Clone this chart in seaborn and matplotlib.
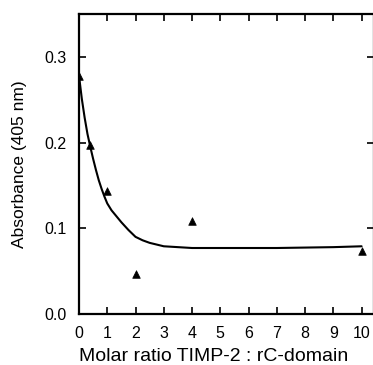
import numpy as np
import matplotlib
matplotlib.use('Agg')
import matplotlib.pyplot as plt
import pandas as pd
import seaborn as sns

# measured points
ratio = [0, 0.4, 1, 2, 4, 10]
absorb = [0.278, 0.197, 0.143, 0.047, 0.108, 0.073]

# fitted curve
fit_x = [0, 0.1, 0.2, 0.3, 0.4, 0.5, 0.6, 0.7, 0.8, 0.9, 1.0, 1.15, 1.3, 1.5,
         1.75, 2.0, 2.25, 2.5, 2.75, 3.0, 3.5, 4, 5, 6, 7, 8, 9, 10]
fit_y = [0.278, 0.251, 0.229, 0.210, 0.195, 0.181, 0.168, 0.156, 0.146, 0.137,
         0.129, 0.121, 0.115, 0.107, 0.098, 0.090, 0.086, 0.083, 0.081, 0.079,
         0.078, 0.077, 0.077, 0.077, 0.077, 0.0775, 0.078, 0.079]

xticks = list(range(0, 11))
yticks = [0.0, 0.1, 0.2, 0.3]

sns.set_style('ticks')
plt.rcParams['font.family'] = ['Liberation Sans', 'DejaVu Sans']
plt.rcParams['text.color'] = 'black'
plt.rcParams['axes.labelcolor'] = 'black'

fig = plt.figure(figsize=(3.73, 3.65), dpi=100)
ax = fig.add_axes([79/373, 51/365, 1.0 - 79/373 + 0.002, 300/365])

pts = pd.DataFrame({'ratio': ratio, 'abs': absorb})
fit = pd.DataFrame({'x': fit_x, 'y': fit_y})

sns.lineplot(data=fit, x='x', y='y', color='black', linewidth=1.5, ax=ax, sort=True)
sns.scatterplot(data=pts, x='ratio', y='abs', marker='^', color='black', s=30,
                edgecolor='black', linewidth=0.5, ax=ax, zorder=3)

ax.set_xlim(0, 10.43)
ax.set_ylim(0, 0.35)
ax.set_xticks(xticks)
ax.set_xticklabels([str(t) for t in xticks])
ax.set_yticks(yticks)
ax.set_yticklabels(['0.0', '0.1', '0.2', '0.3'])
ax.tick_params(direction='in', top=True, right=True, length=5, width=1.2,
               labelsize=11.5, colors='black', labelcolor='black')
ax.tick_params(axis='x', pad=9)
ax.tick_params(axis='y', pad=9)
for s in ax.spines.values():
    s.set_linewidth(1.6)
    s.set_color('black')

ax.set_xlabel('Molar ratio TIMP-2 : rC-domain', fontsize=14, color='black')
ax.xaxis.set_label_coords(0.457, -0.113)
ax.set_ylabel('Absorbance (405 nm)', fontsize=12.5, color='black')
ax.yaxis.set_label_coords(-0.177, 0.5)

fig.savefig('out.png', dpi=100)
